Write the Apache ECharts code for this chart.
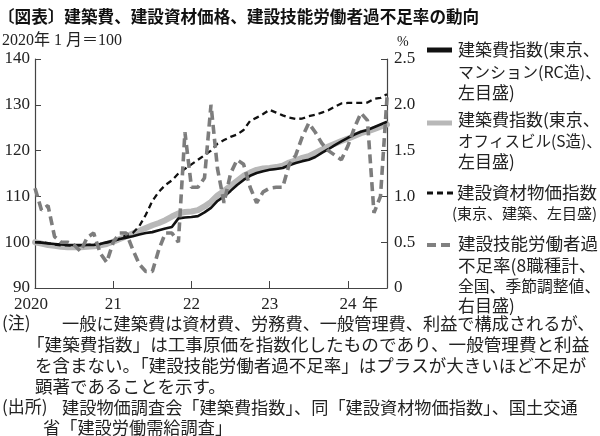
<!DOCTYPE html>
<html><head><meta charset="utf-8">
<script src="https://cdn.jsdelivr.net/npm/echarts@6/dist/echarts.min.js"></script>
<style>html,body{margin:0;padding:0;background:#fff}#c{width:600px;height:436px}</style>
</head><body><div id="c"></div>
<script>
const months = [
'2020/1','2020/2','2020/3','2020/4','2020/5','2020/6','2020/7','2020/8','2020/9','2020/10','2020/11','2020/12',
'2021/1','2021/2','2021/3','2021/4','2021/5','2021/6','2021/7','2021/8','2021/9','2021/10','2021/11','2021/12',
'2022/1','2022/2','2022/3','2022/4','2022/5','2022/6','2022/7','2022/8','2022/9','2022/10','2022/11','2022/12',
'2023/1','2023/2','2023/3','2023/4','2023/5','2023/6','2023/7','2023/8','2023/9','2023/10','2023/11','2023/12',
'2024/1','2024/2','2024/3','2024/4','2024/5','2024/6','2024/7'];
const xTickLabels = {'2020/1':'2020','2021/1':'21','2022/1':'22','2023/1':'23','2024/1':'24'};
// 建築費指数（東京、マンション RC造）
const rcMansion = [100,99.9,99.7,99.6,99.5,99.4,99.4,99.4,99.4,99.4,99.6,100,
100.3,100.7,101,101.3,101.7,102,102.2,102.6,103,103.3,105.2,105.4,
105.5,105.7,106.5,107.5,109,110,111.2,112.5,113.6,114.5,115.1,115.5,
115.8,116,116.2,116.8,117.3,117.7,118,118.6,119.5,120.3,121.2,122,
122.8,123.5,124.1,124.5,125.1,125.7,126.3];
// 建築費指数（東京、オフィスビル S造）
const officeS = [100,99.7,99.4,99.2,99,98.9,98.9,98.9,99,99.1,99.3,99.6,
100.1,100.7,101.3,101.9,102.5,103.1,103.7,104.2,104.8,105.6,106.3,106.6,
106.7,107,107.8,108.8,110.2,111.2,112.3,113.4,114.5,115.2,115.8,116.1,
116.2,116.4,116.7,117.4,117.9,118.4,118.8,119.5,120.2,120.9,121.5,122.1,
122.6,123.2,123.8,124.2,124.7,125.2,125.7];
// 建設資材物価指数（東京、建築）
const material = [100,100,99.8,99.5,99.3,99.3,99.2,99.3,99.4,99.5,99.6,99.9,
100.2,100.8,101.5,102,103.5,106,109,111,112.5,113.5,115,116,
117,118,119,120,121.5,122.3,123,123.5,124.5,126.5,127.2,128,
128.9,128.3,127.7,127.2,126.9,127,127.5,127.8,128.3,128.8,129.6,130.3,
130.4,130.4,130.4,130.5,131.3,131.5,132.3];
// 建設技能労働者過不足率（8職種計、全国、季節調整値）%
const laborShortage = [1.09,0.85,0.9,0.56,0.5,0.5,0.47,0.4,0.55,0.6,0.38,0.28,
0.5,0.6,0.6,0.42,0.26,0.18,0.18,0.42,0.6,0.6,0.5,1.7,
1.1,1.1,1.2,2.0,1.3,0.93,1.25,1.4,1.35,1.1,0.93,1.05,
1.09,1.1,1.1,1.35,1.45,1.65,1.8,1.7,1.58,1.5,1.45,1.4,
1.55,1.75,1.91,1.83,0.82,1.0,2.08];

const SERIF = "'Liberation Serif','Noto Sans CJK JP'";
const JP = "'Noto Sans CJK JP'";
const chart = echarts.init(document.getElementById('c'), null, {renderer:'canvas'});

function txt(x, y, s, size, opts) {
  opts = opts || {};
  return {type:'text', x:x, y:y, silent:true, style:{text:s, fill:opts.fill||'#222',
    font:(opts.weight||'normal')+' '+size+'px '+(opts.family||JP), align:opts.align||'left', verticalAlign:'middle'}};
}
function ln(x1,y1,x2,y2,stroke,w,dash){
  return {type:'line', silent:true, shape:{x1,y1,x2,y2}, style:{stroke, lineWidth:w, lineDash:dash||null}};
}
const graphics = [
  txt(-2, 17, '〔図表〕建築費、建設資材価格、建設技能労働者過不足率の動向', 16.6, {weight:'bold', fill:'#111'}),
  txt(2, 41, '2020年 1 月＝100', 16, {family:SERIF}),
  txt(397, 42, '%', 14, {family:SERIF}),
  txt(362, 304, '年', 16, {family:JP}),
  // legend
  ln(427,50,452,50,'#111',5),
  txt(458,50,'建築費指数(東京、',17),
  txt(458,71.5,'マンション(RC造)、',16),
  txt(458,93,'左目盛)',17),
  ln(427,123,452,123,'#b8b8b8',5),
  txt(458,120,'建築費指数(東京、',17),
  txt(458,141,'オフィスビル(S造)、',15.5),
  txt(458,162,'左目盛)',17),
  ln(427,193,456,193,'#111',3,[6,4]),
  txt(457,192,'建設資材物価指数',17.5),
  txt(452,213,'(東京、建築、左目盛)',15),
  ln(427,245,451,245,'#808080',4,[9,5]),
  txt(458,243,'建設技能労働者過',17.5),
  txt(458,265,'不足率(8職種計、',17.5),
  txt(458,286,'全国、季節調整値、',15.8),
  txt(458,306,'右目盛)',17),
  // notes
  txt(2,323,'(注)',17),
  txt(62,323,'一般に建築費は資材費、労務費、一般管理費、利益で構成されるが、',17.2),
  txt(27,344,'「建築費指数」は工事原価を指数化したものであり、一般管理費と利益',17.6),
  txt(35,365,'を含まない。「建設技能労働者過不足率」はプラスが大きいほど不足が',17.5),
  txt(35,386,'顕著であることを示す。',17.5),
  txt(2,407,'(出所)',17),
  txt(62,407,'建設物価調査会「建築費指数」、同「建設資材物価指数」、国土交通',17.2),
  txt(43,427,'省「建設労働需給調査」',17.2)
];

chart.setOption({
  animation:false,
  backgroundColor:'#fff',
  grid:{left:35, right:213, top:59, bottom:148, containLabel:false},
  xAxis:{type:'category', data:months, boundaryGap:false,
    axisLine:{lineStyle:{color:'#444', width:1.2}},
    axisTick:{inside:true, length:7, lineStyle:{color:'#444'}, interval:(i)=>i>0 && i%12===0},
    axisLabel:{interval:(i)=>i%12===0,
      formatter:(v)=> v==='2020/1' ? '{a|2020}' : (xTickLabels[v]||''),
      rich:{a:{fontSize:17, fontFamily:SERIF, color:'#222', padding:[0,8,0,0]}},
      color:'#222', fontSize:17, fontFamily:SERIF, margin:8},
    splitLine:{show:false}},
  yAxis:[
    {type:'value', min:90, max:140, interval:10, position:'left',
      axisLine:{show:true, lineStyle:{color:'#444', width:1.2}},
      axisTick:{show:true, inside:true, length:6, lineStyle:{color:'#444'}},
      axisLabel:{color:'#222', fontSize:17, fontFamily:SERIF, margin:5},
      splitLine:{show:false}},
    {type:'value', min:0, max:2.5, interval:0.5, position:'right',
      axisLine:{show:true, lineStyle:{color:'#444', width:1.2}},
      axisTick:{show:true, inside:true, length:6, lineStyle:{color:'#444'}},
      axisLabel:{color:'#222', fontSize:17, fontFamily:SERIF, margin:7, formatter:(v)=>v===0?'0':v.toFixed(1)},
      splitLine:{show:false}}
  ],
  series:[
    {name:'建築費指数(東京、オフィスビル(S造))', type:'line', yAxisIndex:0, data:officeS, symbol:'none', z:2,
      lineStyle:{color:'#b8b8b8', width:6, cap:'round', join:'round'}},
    {name:'建築費指数(東京、マンション(RC造))', type:'line', yAxisIndex:0, data:rcMansion, symbol:'none', z:3,
      lineStyle:{color:'#111', width:2.6}},
    {name:'建設資材物価指数(東京、建築)', type:'line', yAxisIndex:0, data:material, symbol:'none', z:4,
      lineStyle:{color:'#111', width:2.3, type:[6,4]}},
    {name:'建設技能労働者過不足率', type:'line', yAxisIndex:1, data:laborShortage, symbol:'none', z:5,
      lineStyle:{color:'#7d7d7d', width:3.6, type:[9,5]}}
  ],
  graphic:graphics
});
</script>
</body></html>
